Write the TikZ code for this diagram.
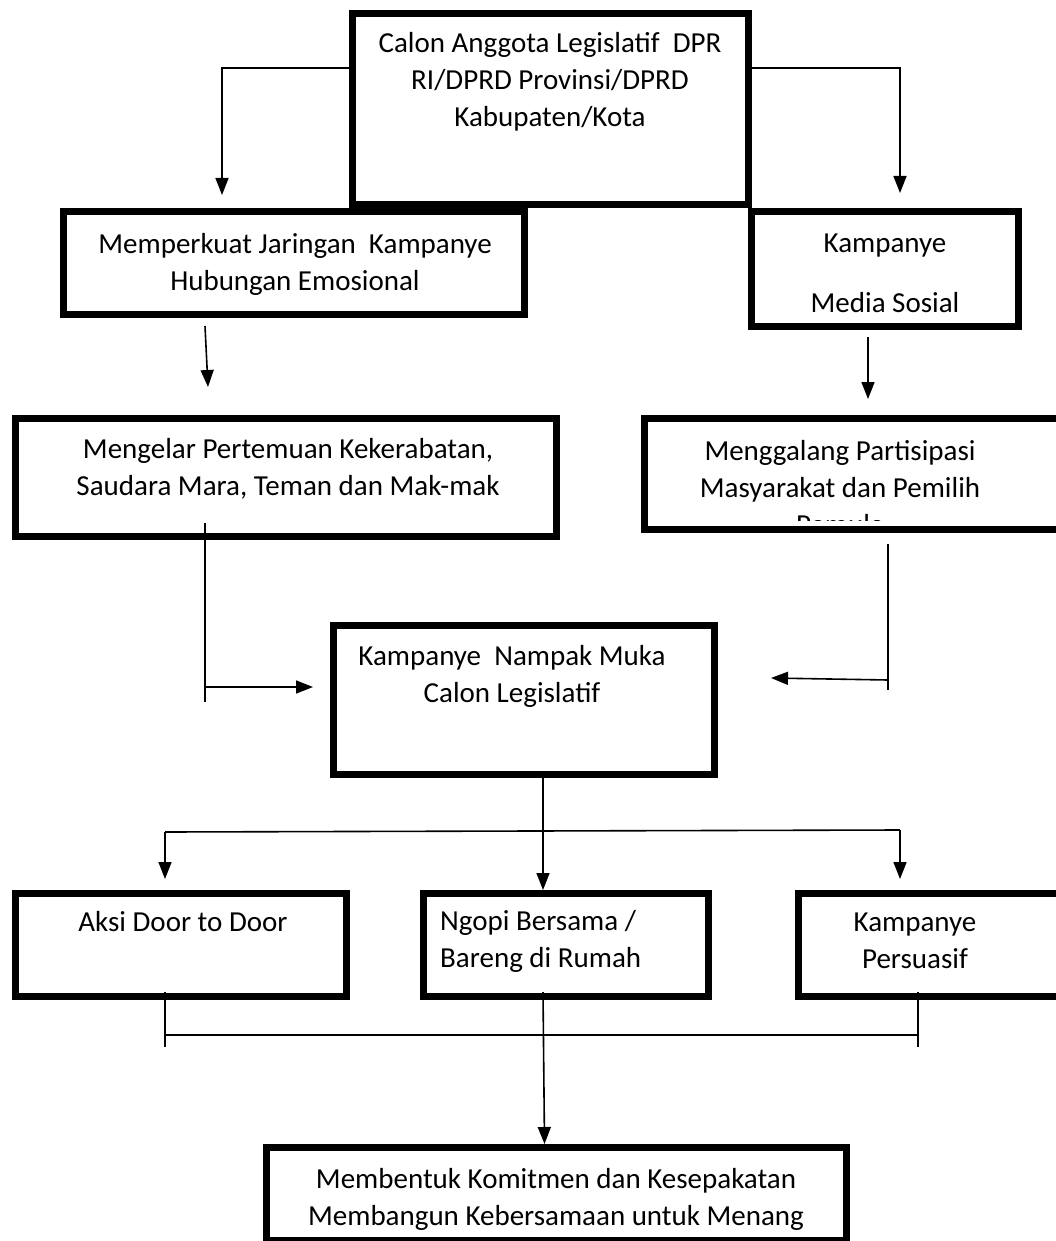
\documentclass[tikz,border=0pt]{standalone}
\usepackage{fontspec}
\setmainfont{Carlito}
\usetikzlibrary{arrows.meta,calc}

\begin{document}
\begin{tikzpicture}[x=1pt,y=-1pt,
		box/.style={draw=black, line width=7pt, inner sep=0pt},
		txt/.style={font=\fontsize{29}{37}\selectfont, align=center, inner sep=0pt},
		link/.style={black, line width=1.6pt},
		arr/.style={link, -{Triangle[width=13pt,length=17pt]}}]
		\useasboundingbox (0,0) rectangle (1056,1241);
		\clip (0,0) rectangle (1056,1241);
		% boxes
		\node[box, minimum width=396pt, minimum height=191pt] (calon) at (550.5,109) {};
		\node[box, minimum width=461pt, minimum height=103pt] (kuat) at (294,263) {};
		\node[box, minimum width=267pt, minimum height=115pt] (medsos) at (885,269) {};
		\node[box, minimum width=541pt, minimum height=118pt] (gelar) at (286,477.5) {};
		\node[box, minimum width=422pt, minimum height=111pt] (galang) at (855.5,474) {};
		\node[box, minimum width=381pt, minimum height=149pt] (nampak) at (524,700) {};
		\node[box, minimum width=331pt, minimum height=103pt] (aksi) at (181,945) {};
		\node[box, minimum width=285pt, minimum height=103pt] (ngopi) at (566,945) {};
		\node[box, minimum width=268pt, minimum height=103pt] (persuasi) at (932.5,945) {};
		\node[box, minimum width=580pt, minimum height=93pt] (komit) at (556.5,1194) {};
		% texts
		\node[txt] (calon-txt) at (550,82) {Calon Anggota Legislatif\ \ DPR\\RI/DPRD Provinsi/DPRD\\Kabupaten/Kota};
		\node[txt] (kuat-txt) at (295,264) {Memperkuat Jaringan\ \ Kampanye\\Hubungan Emosional};
		\node[txt] (medsos-txt) at (885,273) {Kampanye\\[23pt]Media Sosial};
		\node[txt] (gelar-txt) at (288,469) {Mengelar Pertemuan Kekerabatan,\\Saudara Mara, Teman dan Mak-mak};
		\begin{scope}
			\clip ($(galang.north west)+(3.5,3.5)$) rectangle ($(galang.east)+(-3.5,46)$);
			\node[txt] (galang-txt) at (840,488) {Menggalang Partisipasi\\Masyarakat dan Pemilih\\Pemula};
		\end{scope}
		\node[txt] (nampak-txt) at (512,676) {Kampanye\ \ Nampak Muka\\Calon Legislatif};
		\node[txt] (aksi-txt) at (183,922) {Aksi Door to Door};
		\node[txt, align=left, anchor=west] (ngopi-txt) at (440,941) {Ngopi Bersama /\\Bareng di Rumah};
		\node[txt] (persuasi-txt) at (915,941) {Kampanye\\Persuasif};
		\node[txt] (komit-txt) at (556,1199) {Membentuk Komitmen dan Kesepakatan\\Membangun Kebersamaan untuk Menang};
		% connectors
		\coordinate (l1) at (222,68);
		\coordinate (r1) at (900,68);
		\draw[arr, shorten >=13pt] (calon.west |- l1) -| (kuat.north -| l1);
		\draw[arr, shorten >=15pt] (calon.east |- r1) -| (medsos.north -| r1);
		\draw[arr] ($(kuat.south)+(-89,8)$) -- ($(gelar.north)+(-78,-28)$);
		\draw[arr] ($(medsos.south)+(-17,7)$) -- ($(galang.north)+(12.5,-16)$);
		\coordinate (g1) at (205,687);
		\draw[link] ($(gelar.south)+(-81,-17)$) -- ($(g1)+(0,15)$);
		\draw[arr] (g1) -- ($(nampak.west)+(-17,-13)$);
		\coordinate (h1) at (888,680);
		\draw[link] ($(galang.south)+(32.5,11)$) -- ($(h1)+(0,10)$);
		\draw[arr] (h1) -- ($(nampak.east)+(53,-22)$);
		\draw[arr] ($(nampak.south)+(19,-7)$) -- ($(ngopi.north)+(-23,0)$);
		\coordinate (b1) at (165,832);
		\coordinate (b2) at (900,830);
		\draw[link] (b1) -- (b2);
		\draw[arr, shorten >=11pt] (b1) -- (aksi.north -| b1);
		\draw[arr, shorten >=11pt] (b2) -- (persuasi.north -| b2);
		\coordinate (c1) at (165,1035);
		\coordinate (c2) at (918,1035);
		\draw[link] ($(aksi.south -| c1)+(0,-8)$) -- ($(c1)+(0,12)$);
		\draw[link] ($(persuasi.south -| c2)+(0,-8)$) -- ($(c2)+(0,12)$);
		\draw[link] (c1) -- (c2);
		\draw[arr] ($(ngopi.south)+(-23,-8)$) -- ($(komit.north)+(-12,0)$);
\end{tikzpicture}
\end{document}
